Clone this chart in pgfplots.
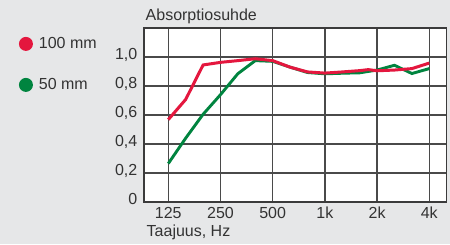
\documentclass[border=0pt]{standalone}
\usepackage{pgfplots}
\pgfplotsset{compat=1.18}
\usepackage{fontspec}
\setmainfont{Liberation Sans}
\definecolor{bgc}{HTML}{E6E7E8}
\definecolor{redc}{HTML}{E4173E}
\definecolor{greenc}{HTML}{00843F}
\definecolor{txt}{HTML}{333333}
\definecolor{gridc}{HTML}{4A4A4A}
\begin{document}
\fontsize{16bp}{18bp}\selectfont
\begin{tikzpicture}[x=1bp,y=1bp]
\fill[bgc] (0,0) rectangle (450,244);
\useasboundingbox (0,0) rectangle (450,244);
\begin{axis}[
  at={(144bp,42bp)}, anchor=south west,
  scale only axis, width=302.5bp, height=174bp,
  xmin=-0.465, xmax=5.33, ymin=0, ymax=1.2,
  axis background/.style={fill=white},
  xtick={0,1,2,3,4,5},
  xticklabels={125,250,500,1k,2k,4k},
  ytick={0,0.2,0.4,0.6,0.8,1.0},
  yticklabels={0,{0,2},{0,4},{0,6},{0,8},{1,0}},
  major tick length=0pt,
  grid=major,
  major grid style={gridc, line width=1.4bp},
  axis line style={gridc!80!black, line width=1.1bp},
  tick label style={font=\fontsize{16bp}{18bp}\selectfont, text=txt, inner sep=0pt},
  xticklabel style={anchor=base, yshift=-16.3bp},
  yticklabel style={anchor=base east, xshift=-6.5bp, yshift=-2.9bp},
  legend style={at={(-0.424,0.9615)}, anchor=north west, draw=none, fill=none,
    font=\fontsize{16bp}{18bp}\selectfont, text=txt, row sep=27bp,
    nodes={inner sep=0pt}},
  legend cell align=left,
  legend image code/.code={\fill[#1] (7bp,0bp) circle (7bp); \path (0bp,0bp) (20bp,0bp);},
  clip=true,
]
\addlegendimage{fill=redc, draw=none}
\addlegendentry{100 mm}
\addlegendimage{fill=greenc, draw=none}
\addlegendentry{50 mm}
\addplot[greenc, line width=2.9bp, forget plot] coordinates {
(0,0.265) (0.333,0.44) (0.667,0.605) (1,0.74) (1.333,0.885) (1.667,0.975)
(2,0.97) (2.333,0.93) (2.667,0.893) (3,0.884) (3.333,0.888) (3.667,0.891)
(4,0.91) (4.333,0.943) (4.667,0.886) (5,0.92)};
\addplot[redc, line width=3bp, forget plot] coordinates {
(0,0.568) (0.333,0.707) (0.667,0.945) (1,0.963) (1.333,0.975) (1.667,0.988)
(2,0.975) (2.333,0.93) (2.667,0.897) (3,0.889) (3.333,0.897) (3.667,0.906)
(3.833,0.913) (4,0.905) (4.333,0.91) (4.667,0.92) (5,0.958)};
\end{axis}
\node[anchor=base west, text=txt, inner sep=0pt] at (145.5,223.3) {Absorptiosuhde};
\node[anchor=base west, text=txt, inner sep=0pt] at (146.5,7.3) {Taajuus, Hz};
\end{tikzpicture}
\end{document}
